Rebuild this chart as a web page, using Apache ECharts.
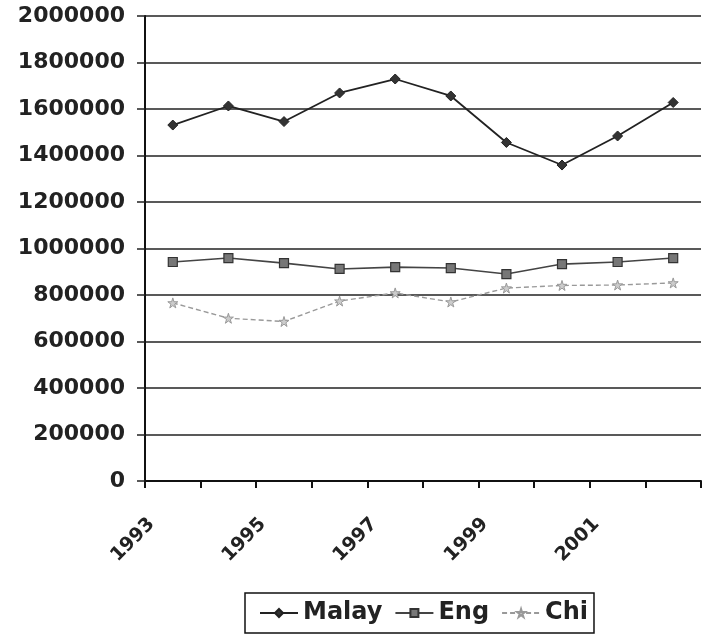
<!DOCTYPE html>
<html><head><meta charset="utf-8">
<script src="https://cdn.jsdelivr.net/npm/echarts@6/dist/echarts.min.js"></script>
<style>html,body{margin:0;padding:0;background:#fff}#c{width:702px;height:639px}</style>
</head><body><div id="c"></div>
<script>
const years = ['1993','1994','1995','1996','1997','1998','1999','2000','2001','2002'];
const malay = [1531000,1613000,1546000,1669000,1729000,1656000,1456000,1359000,1484000,1628000];
const eng   = [942000,959000,937000,912000,920000,916000,890000,933000,942000,959000];
const chi   = [766000,700000,686000,774000,809000,770000,830000,841000,843000,852000];
const yTicks = {min:0, max:2000000, interval:200000};

const star = 'path://M50,0 L61,35 L98,35 L68,57 L79,91 L50,70 L21,91 L32,57 L2,35 L39,35 Z';
const font = '"DejaVu Sans", "Liberation Sans", sans-serif';

const chart = echarts.init(document.getElementById('c'), null, {renderer:'canvas'});
chart.setOption({
  backgroundColor:'#fff',
  animation:false,
  grid:{left:145, right:1, top:16, bottom:158, containLabel:false},
  xAxis:{
    type:'category', data:years, boundaryGap:true,
    axisLine:{lineStyle:{color:'#111', width:2}},
    axisTick:{show:true, interval:0, length:7, lineStyle:{color:'#111', width:2}},
    axisLabel:{interval:1, rotate:45, color:'#222', fontFamily:font, fontWeight:'bold', fontSize:19,
               margin:19, padding:[0,30,0,0]}
  },
  yAxis:{
    type:'value', min:yTicks.min, max:yTicks.max, interval:yTicks.interval,
    axisLine:{show:true, lineStyle:{color:'#111', width:2}},
    axisTick:{show:true, length:8, lineStyle:{color:'#222', width:1.5}},
    axisLabel:{color:'#222', fontFamily:font, fontWeight:'bold', fontSize:22, margin:20,
               formatter:function(v){return String(v);}},
    splitLine:{lineStyle:{color:'#222', width:1.6}}
  },
  legend:{
    top:593, left:245,
    data:['Malay','Eng','Chi'],
    borderColor:'#111', borderWidth:1.5, padding:[8,6,8,14],
    itemGap:12, itemWidth:38, itemHeight:10,
    textStyle:{color:'#222', fontFamily:font, fontWeight:'bold', fontSize:24}
  },
  series:[
    {name:'Malay', type:'line', data:malay, symbol:'diamond', symbolSize:10,
     lineStyle:{color:'#222', width:1.8}, itemStyle:{color:'#333', borderColor:'#222', borderWidth:1}},
    {name:'Eng', type:'line', data:eng, symbol:'rect', symbolSize:9,
     lineStyle:{color:'#444', width:1.6}, itemStyle:{color:'#777', borderColor:'#333', borderWidth:1.2}},
    {name:'Chi', type:'line', data:chi, symbol:star, symbolSize:10,
     lineStyle:{color:'#999', width:1.4, type:[5,3]}, itemStyle:{color:'#ccc', borderColor:'#999', borderWidth:1}}
  ]
});
</script></body></html>
